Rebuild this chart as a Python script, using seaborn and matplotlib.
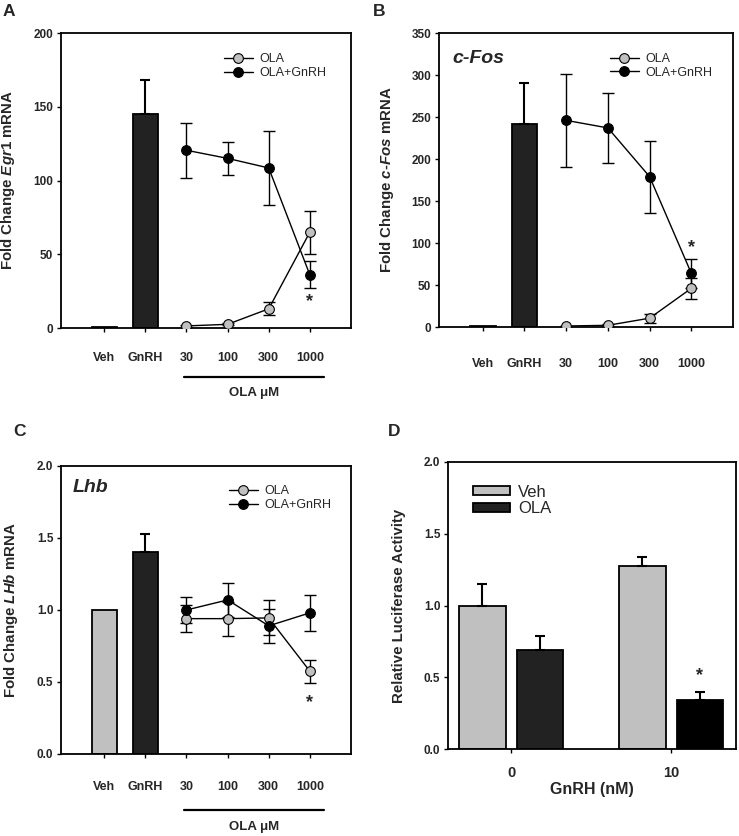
import numpy as np
import pandas as pd
import matplotlib
matplotlib.use("Agg")
import matplotlib.pyplot as plt
import matplotlib.transforms as mtransforms
from matplotlib.lines import Line2D
from matplotlib.patches import Patch
from matplotlib.ticker import FormatStrFormatter
import seaborn as sns


#-----Data-----#
cats = ['Veh', 'GnRH', '30', '100', '300', '1000']
doses = ['30', '100', '300', '1000']

# A: Egr1
egr1_bar = [1.0, 145.0]
egr1_bar_err = [0.0, 23.0]
egr1_ola = [1.4, 2.5, 13.0, 65.0]
egr1_ola_err = [0.5, 0.8, 4.3, 14.5]
egr1_gnrh = [120.5, 115.0, 108.5, 36.0]
egr1_gnrh_err = [18.5, 11.0, 24.8, 9.2]

# B: c-Fos
fos_bar = [1.0, 242.0]
fos_bar_err = [0.0, 48.0]
fos_ola = [1.2, 2.0, 10.5, 46.0]
fos_ola_err = [0.5, 1.0, 5.3, 12.5]
fos_gnrh = [246.0, 237.0, 179.0, 64.0]
fos_gnrh_err = [55.0, 42.0, 43.0, 17.0]

# C: Lhb
lhb_bar = [1.0, 1.4]
lhb_bar_err = [0.0, 0.13]
lhb_ola = [0.94, 0.94, 0.945, 0.575]
lhb_ola_err = [0.095, 0.118, 0.122, 0.08]
lhb_gnrh = [1.0, 1.07, 0.89, 0.98]
lhb_gnrh_err = [0.09, 0.116, 0.118, 0.124]

# D: luciferase
gnrh_nm = ['0', '10']
luc_veh = [1.0, 1.275]
luc_veh_err = [0.147, 0.06]
luc_ola = [0.69, 0.338]
luc_ola_err = [0.10, 0.061]

LIGHT = '#c0c0c0'
DARK = '#222222'

sns.set_style("ticks")
plt.rcParams['font.family'] = ['Liberation Sans', 'DejaVu Sans']
plt.rcParams['font.weight'] = 'bold'
plt.rcParams['axes.labelweight'] = 'bold'
plt.rcParams['mathtext.fontset'] = 'custom'
plt.rcParams['mathtext.it'] = 'Liberation Sans:italic:bold'
plt.rcParams['mathtext.rm'] = 'Liberation Sans:bold'
plt.rcParams['mathtext.bf'] = 'Liberation Sans:bold'

W, H = 739, 836
fig = plt.figure(figsize=(W / 100, H / 100), dpi=100)


def px_axes(left, top, right, bottom):
    return fig.add_axes([left / W, 1 - bottom / H, (right - left) / W, (bottom - top) / H])


def style_axes(ax, xpad):
    for s in ax.spines.values():
        s.set_linewidth(1.3)
        s.set_color('black')
    ax.tick_params(axis='both', direction='out', length=3, width=1, labelsize=8.5,
                   top=False, right=False, color='black')
    ax.tick_params(axis='y', pad=2.5)
    ax.tick_params(axis='x', pad=xpad, labelsize=9)


def bar_errors(ax, bars, errs):
    # one-sided error bars on top of the bars
    for p, e in zip(bars, errs):
        if e > 0:
            cx = p.get_x() + p.get_width() / 2
            ax.errorbar([cx], [p.get_height()], yerr=[[0], [e]], fmt='none',
                        ecolor='black', elinewidth=1.5, capsize=3.3, capthick=1.5, zorder=4)


#-----Dose-response panels-----#
def dose_panel(ax, bar_vals, bar_err, ola, ola_err, gnrh, gnrh_err, ymax, ystep,
               ylabel, legend_xy, xpad, fmt=None):
    df = pd.DataFrame({'grp': cats[:2], 'val': bar_vals})
    sns.barplot(data=df, x='grp', y='val', hue='grp', order=cats,
                palette={'Veh': LIGHT, 'GnRH': DARK}, width=0.61, errorbar=None,
                edgecolor='black', linewidth=1.3, legend=False, ax=ax)
    bar_errors(ax, list(ax.patches), bar_err)

    pos = [cats.index(d) for d in doses]
    ax.errorbar(pos, ola, yerr=ola_err, fmt='none', ecolor='black', elinewidth=1,
                capsize=4.5, capthick=1, zorder=3)
    ax.errorbar(pos, gnrh, yerr=gnrh_err, fmt='none', ecolor='black', elinewidth=1,
                capsize=4.5, capthick=1, zorder=3)
    sns.lineplot(x=pos, y=ola, color='black', lw=1, marker='o', markersize=7,
                 markerfacecolor=LIGHT, markeredgecolor='black', markeredgewidth=0.8,
                 ax=ax, zorder=5)
    sns.lineplot(x=pos, y=gnrh, color='black', lw=1, marker='o', markersize=7,
                 markerfacecolor='black', markeredgecolor='black', markeredgewidth=0.8,
                 ax=ax, zorder=5)

    ax.set_xlim(-1.05, 6.0)
    ax.set_ylim(0, ymax)
    ax.set_yticks(np.arange(0, ymax + ystep / 2, ystep))
    if fmt:
        ax.yaxis.set_major_formatter(FormatStrFormatter(fmt))
    ax.set_xlabel('')
    ax.set_ylabel(ylabel, fontsize=10.8)
    style_axes(ax, xpad)

    handles = [
        Line2D([], [], color='black', lw=1, marker='o', ms=7, mfc=LIGHT, mec='black', mew=0.8),
        Line2D([], [], color='black', lw=1, marker='o', ms=7, mfc='black', mec='black', mew=0.8),
    ]
    ax.legend(handles, ['OLA', 'OLA+GnRH'], loc='upper left', bbox_to_anchor=legend_xy,
              frameon=False, borderpad=0, borderaxespad=0, handlelength=2.3,
              handletextpad=0.5, labelspacing=0.15, prop={'weight': 'normal', 'size': 9})


def ola_bar(ax, y_line, y_text):
    trans = mtransforms.blended_transform_factory(ax.transData, ax.transAxes)
    x0 = cats.index('30') - 0.05
    x1 = cats.index('1000') + 0.35
    ax.plot([x0, x1], [y_line, y_line], transform=trans, clip_on=False, color='black', lw=1.6)
    ax.text((x0 + x1) / 2, y_text, 'OLA μM', transform=trans, ha='center', va='center',
            fontsize=9.5, weight='bold')


# A
axA = px_axes(61, 33, 351, 328)
dose_panel(axA, egr1_bar, egr1_bar_err, egr1_ola, egr1_ola_err, egr1_gnrh, egr1_gnrh_err,
           200, 50, 'Fold Change $\\mathit{Egr1}$ mRNA', (0.562, 0.932), 14)
axA.yaxis.set_label_coords(-0.150, 0.5)
ola_bar(axA, -0.166, -0.22)
axA.text(cats.index('1000'), 18, '*', ha='center', va='center', fontsize=13, weight='bold')

# B
axB = px_axes(439, 33, 733, 327)
dose_panel(axB, fos_bar, fos_bar_err, fos_ola, fos_ola_err, fos_gnrh, fos_gnrh_err,
           350, 50, 'Fold Change $\\mathit{c}$-$\\mathit{Fos}$ mRNA', (0.582, 0.932), 19.5)
axB.yaxis.set_label_coords(-0.145, 0.5)
axB.text(0.046, 0.912, 'c-Fos', transform=axB.transAxes, ha='left', va='center',
         fontsize=14, weight='bold', style='italic')
axB.text(cats.index('1000'), 95, '*', ha='center', va='center', fontsize=13, weight='bold')

# C
axC = px_axes(61, 466, 351, 754)
dose_panel(axC, lhb_bar, lhb_bar_err, lhb_ola, lhb_ola_err, lhb_gnrh, lhb_gnrh_err,
           2.0, 0.5, 'Fold Change $\\mathit{LHb}$ mRNA', (0.579, 0.934), 16.5, fmt='%.1f')
axC.yaxis.set_label_coords(-0.142, 0.5)
ola_bar(axC, -0.194, -0.253)
axC.text(0.040, 0.924, 'Lhb', transform=axC.transAxes, ha='left', va='center',
         fontsize=14, weight='bold', style='italic')
axC.text(cats.index('1000'), 0.36, '*', ha='center', va='center', fontsize=13, weight='bold')

#-----Luciferase panel-----#
axD = px_axes(448, 462, 736, 749)
dfD = pd.DataFrame({
    'gnrh': gnrh_nm * 2,
    'trt': ['Veh'] * len(gnrh_nm) + ['OLA'] * len(gnrh_nm),
    'val': luc_veh + luc_ola,
})
errD = luc_veh_err + luc_ola_err
sns.barplot(data=dfD, x='gnrh', y='val', hue='trt', hue_order=['Veh', 'OLA'],
            palette={'Veh': LIGHT, 'OLA': DARK}, width=0.72, gap=0.19, errorbar=None,
            edgecolor='black', linewidth=1.3, legend=False, ax=axD)
bars = list(axD.patches)[:len(errD)]
bars[3].set_facecolor('black')
bar_errors(axD, bars, errD)
star_bar = bars[3]
axD.text(star_bar.get_x() + star_bar.get_width() / 2, 0.51, '*', ha='center', va='center',
         fontsize=13, weight='bold')
axD.set_xlim(-0.394, 1.406)
axD.set_ylim(0, 2.0)
axD.set_yticks(np.arange(0, 2.01, 0.5))
axD.yaxis.set_major_formatter(FormatStrFormatter('%.1f'))
axD.set_ylabel('Relative Luciferase Activity', fontsize=10.8)
axD.yaxis.set_label_coords(-0.145, 0.5)
axD.set_xlabel('GnRH (nM)', fontsize=11.5, labelpad=1)
style_axes(axD, 9.5)
axD.tick_params(axis='x', labelsize=10.5)
axD.legend([Patch(facecolor=LIGHT, edgecolor='black', lw=1.3),
            Patch(facecolor=DARK, edgecolor='black', lw=1.3)], ['Veh', 'OLA'],
           loc='upper left', bbox_to_anchor=(0.087, 0.921), frameon=False, borderpad=0,
           borderaxespad=0, handlelength=2.2, handleheight=0.45, handletextpad=0.5,
           labelspacing=0.1, prop={'weight': 'normal', 'size': 12})

# panel letters
for letter, x, y in [('A', 3, 4), ('B', 373, 4), ('C', 13, 424), ('D', 388, 424)]:
    fig.text(x / W, 1 - y / H, letter, ha='left', va='top', fontsize=12.5, weight='bold')

fig.savefig('out.png', dpi=100)
